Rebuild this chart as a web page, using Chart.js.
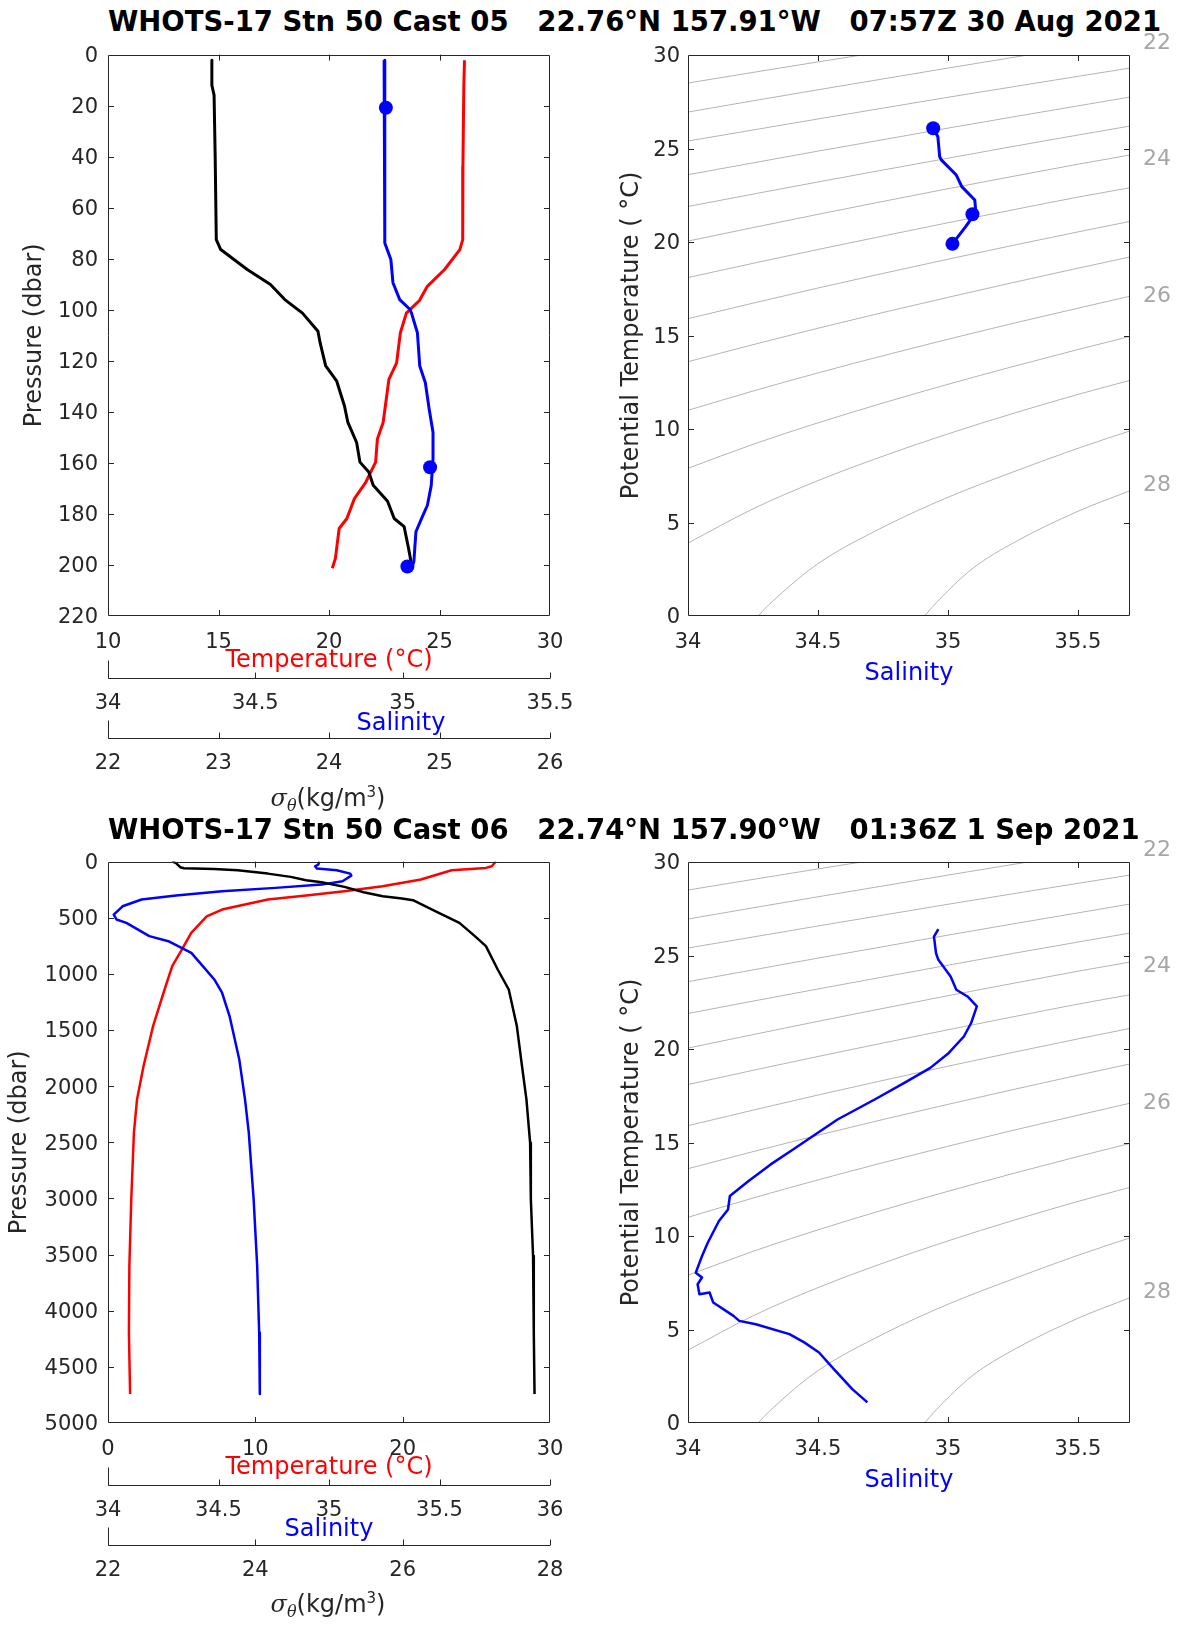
<!DOCTYPE html>
<html lang="en">
<head>
<meta charset="utf-8">
<title>WHOTS-17 Stn 50 casts 05 and 06</title>
<script src="https://cdn.jsdelivr.net/npm/chart.js@4.4.1/dist/chart.umd.min.js"></script>
<style>
  body { margin:0; width:1182px; height:1626px; position:relative; background:#fff; overflow:hidden; font-family:"DejaVu Sans", sans-serif; }
  canvas { position:absolute; }
  .ttl { position:absolute; left:108px; font-weight:bold; font-size:27.5px; line-height:30px; white-space:pre; color:#000; }
  .lbl { position:absolute; font-size:24px; line-height:28px; white-space:nowrap; transform:translate(-50%,-50%); color:#262626; }
  .lbl i { font-family:"DejaVu Serif", serif; }
  .lbl sub { font-size:16px; }
  .lbl sup { font-size:15px; }
</style>
</head>
<body>

<div class="ttl" style="top:6px">WHOTS-17 Stn 50 Cast 05   22.76°N 157.91°W   07:57Z 30 Aug 2021</div>
<canvas id="prof05" width="590" height="781" style="left:0;top:32px"></canvas>
<canvas id="ts05" width="591" height="669" style="left:591px;top:20px"></canvas>
<div class="lbl" style="left:401px;top:722px;color:#0000ff">Salinity</div>
<div class="lbl" style="left:328px;top:799px"><i>σ<sub>θ</sub></i>(kg/m<sup>3</sup>)</div>

<div class="ttl" style="top:814px">WHOTS-17 Stn 50 Cast 06   22.74°N 157.90°W   01:36Z 1 Sep 2021</div>
<canvas id="prof06" width="590" height="781" style="left:0;top:839px"></canvas>
<canvas id="ts06" width="591" height="669" style="left:591px;top:827px"></canvas>
<div class="lbl" style="left:328px;top:1605px"><i>σ<sub>θ</sub></i>(kg/m<sup>3</sup>)</div>

<script>
// ---- cast 05 profiles (pressure dbar)
const p05T = [2.2, 12.6, 43.9, 72.5, 76.4, 84.2, 90.8, 96.3, 101.3, 109, 120.8, 127.3, 144.2, 150.6, 159.7, 167.5, 174, 181.8, 185.7, 197.4, 201.3];
const t05  = [26.13, 26.10, 26.06, 26.05, 25.92, 25.23, 24.45, 24.10, 23.50, 23.23, 23.06, 22.71, 22.45, 22.19, 22.11, 21.67, 21.15, 20.81, 20.46, 20.29, 20.15];
const p05S = [2.2, 13.3, 21.7, 73.8, 80.3, 89.4, 96, 99.9, 101.3, 109, 122, 128.6, 139, 148, 158.4, 168.8, 176.6, 181.8, 187, 198.7, 200.6];
const s05  = [34.937, 34.938, 34.940, 34.940, 34.960, 34.967, 34.990, 35.025, 35.030, 35.050, 35.058, 35.077, 35.090, 35.103, 35.103, 35.097, 35.084, 35.064, 35.045, 35.038, 35.032];
const p05D = [2.2, 12, 15.9, 40, 72.5, 76.4, 80.3, 84.2, 90.1, 96, 101.3, 108.4, 113, 122, 128, 137.7, 144, 152, 159.7, 163.6, 168.8, 175, 181.8, 185, 193.5, 200.6];
const d05  = [22.94, 22.94, 22.96, 22.97, 22.98, 23.02, 23.14, 23.26, 23.47, 23.60, 23.76, 23.90, 23.92, 23.97, 24.07, 24.14, 24.17, 24.25, 24.28, 24.36, 24.40, 24.53, 24.59, 24.68, 24.72, 24.75];
const p05Mark = [20.8, 161.7, 200.6];
const s05Mark = [34.943, 35.093, 35.016];

// ---- cast 05 theta-S
const ts05S = [34.943, 34.961, 34.968, 34.975, 35.032, 35.053, 35.103, 35.107, 35.068, 35.017];
const ts05T = [26.08, 25.63, 24.56, 24.38, 23.58, 22.96, 22.25, 21.60, 20.82, 19.90];
const ts05MarkS = [34.943, 35.094, 35.017];
const ts05MarkT = [26.08, 21.48, 19.90];

// ---- cast 06 profiles
const p06T = [0, 41.5, 56, 77, 160, 220, 264, 302, 338, 427, 487, 635, 783, 931, 1139, 1465, 1822, 2118, 2414, 3007, 3601, 4194, 4742];
const t06  = [26.31, 26.05, 25.65, 23.32, 21.24, 18.64, 16.04, 13.45, 10.85, 7.74, 6.70, 5.65, 5.01, 4.36, 3.84, 3.06, 2.41, 1.97, 1.76, 1.58, 1.45, 1.42, 1.50];
const p06S = [0, 27, 41.5, 62, 77, 107, 125, 175, 205, 234, 264, 302, 338, 398, 472, 516, 546, 664, 709, 813, 931, 1050, 1168, 1376, 1762, 2118, 2414, 3007, 3601, 4194, 4742];
const s06  = [34.957, 34.951, 34.937, 34.946, 35.035, 35.096, 35.101, 35.061, 34.966, 34.758, 34.516, 34.308, 34.152, 34.066, 34.026, 34.039, 34.083, 34.187, 34.273, 34.377, 34.429, 34.481, 34.516, 34.550, 34.594, 34.620, 34.637, 34.659, 34.675, 34.684, 34.687];
const p06D = [0, 12, 50, 59, 65, 77, 107, 136, 166, 184, 225, 273, 308, 329, 344, 427, 546, 664, 753, 961, 1139, 1465, 1822, 2118, 2503, 3007, 3512, 4194, 4742];
const d06  = [22.87, 22.92, 22.98, 23.03, 23.44, 23.76, 24.17, 24.48, 24.69, 24.90, 25.21, 25.47, 25.73, 25.99, 26.14, 26.40, 26.77, 26.98, 27.13, 27.29, 27.44, 27.55, 27.62, 27.68, 27.73, 27.74, 27.77, 27.78, 27.79];

// ---- cast 06 theta-S
const ts06S = [34.963, 34.946, 34.954, 34.963, 35.010, 35.032, 35.075, 35.111, 35.089, 35.061, 35.003, 34.932, 34.832, 34.718, 34.575, 34.461, 34.404, 34.318, 34.233, 34.161, 34.154, 34.119, 34.076, 34.054, 34.030, 34.054, 34.037, 34.044, 34.083, 34.097, 34.175, 34.197, 34.261, 34.390, 34.447, 34.504, 34.561, 34.632, 34.690];
const ts06T = [26.41, 26.01, 25.12, 24.77, 23.88, 23.17, 22.81, 22.28, 21.39, 20.67, 19.79, 18.99, 18.19, 17.30, 16.23, 15.16, 14.63, 13.83, 12.94, 12.14, 11.42, 10.80, 9.64, 8.93, 8.04, 7.78, 7.42, 6.89, 6.98, 6.44, 5.73, 5.46, 5.28, 4.75, 4.31, 3.77, 2.88, 1.81, 1.10];

// ---- sigma-theta contours
const sigLevels = [21.5, 22, 22.5, 23, 23.5, 24, 24.5, 25, 25.5, 26, 26.5, 27, 27.5, 28];
const gridS = [34, 34.25, 34.5, 34.75, 35, 35.25, 35.5, 35.7];
const sigS = [gridS, gridS, gridS, gridS, gridS, gridS, gridS, gridS, gridS, gridS, gridS, gridS,
  [34.2, 34.27, 34.35, 34.5, 34.75, 35, 35.25, 35.5, 35.7],
  [34.85, 34.91, 35, 35.1, 35.25, 35.5, 35.7]];
const sigT = [
  [28.5, 29.07, 29.63, 30.18, 30.72, 31.26, 31.79, 32.2],
  [26.95, 27.55, 28.14, 28.72, 29.3, 29.87, 30.43, 30.88],
  [25.4, 25.99, 26.58, 27.16, 27.74, 28.3, 28.86, 29.3],
  [23.6, 24.23, 24.86, 25.47, 26.09, 26.69, 27.28, 27.75],
  [21.9, 22.56, 23.21, 23.85, 24.48, 25.11, 25.72, 26.2],
  [20.05, 20.77, 21.48, 22.17, 22.85, 23.51, 24.16, 24.65],
  [18.1, 18.86, 19.6, 20.32, 21.03, 21.72, 22.4, 22.9],
  [15.9, 16.73, 17.54, 18.32, 19.08, 19.82, 20.54, 21.1],
  [13.6, 14.51, 15.39, 16.23, 17.04, 17.83, 18.6, 19.2],
  [11.0, 12.03, 13.0, 13.92, 14.8, 15.65, 16.46, 17.1],
  [7.9, 9.18, 10.33, 11.39, 12.39, 13.34, 14.25, 14.95],
  [3.9, 5.73, 7.24, 8.55, 9.74, 10.83, 11.85, 12.6],
  [-1.3, 0, 1.1, 2.8, 4.75, 6.35, 7.7, 8.97, 9.9],
  [-1.1, 0, 1.35, 2.6, 3.9, 5.6, 6.7]];
const sigLabels = ['22', '24', '26', '28'];
const sigLabelT = [30.75, 24.55, 17.25, 7.15];

// ---- ticks
const pTicks05 = [0, 20, 40, 60, 80, 100, 120, 140, 160, 180, 200, 220];
const tTicks05 = [10, 15, 20, 25, 30];
const sTicks05 = [34, 34.5, 35, 35.5];
const dTicks05 = [22, 23, 24, 25, 26];
const pTicks06 = [0, 500, 1000, 1500, 2000, 2500, 3000, 3500, 4000, 4500, 5000];
const tTicks06 = [0, 10, 20, 30];
const sTicks06 = [34, 34.5, 35, 35.5, 36];
const dTicks06 = [22, 24, 26, 28];
const thTicks = [0, 5, 10, 15, 20, 25, 30];
const salTicksTS = [34, 34.5, 35, 35.5];
const salMaxTS = 35.7;

const AX = '#262626';
Chart.defaults.font.family = '"DejaVu Sans", sans-serif';
Chart.defaults.color = AX;

// box, inward ticks, the extra bottom axes and the grey sigma labels
const deco = {
  id: 'deco',
  afterDraw(chart, args, o) {
    const ctx = chart.ctx, a = chart.chartArea;
    const xs = chart.scales[o.x], ys = chart.scales[o.y];
    const L = 6;
    ctx.save();
    ctx.strokeStyle = AX;
    ctx.lineWidth = 1;
    ctx.beginPath();
    ctx.rect(Math.round(a.left) + 0.5, Math.round(a.top) + 0.5, Math.round(a.width) - 1, Math.round(a.height) - 1);
    xs.ticks.forEach(t => {
      const px = Math.round(xs.getPixelForValue(t.value)) + 0.5;
      if (px < a.left + 2 || px > a.right - 2) return;
      ctx.moveTo(px, a.bottom); ctx.lineTo(px, a.bottom - L);
      ctx.moveTo(px, a.top); ctx.lineTo(px, a.top + L);
    });
    ys.ticks.forEach(t => {
      const py = Math.round(ys.getPixelForValue(t.value)) + 0.5;
      if (py < a.top + 2 || py > a.bottom - 2) return;
      ctx.moveTo(a.left, py); ctx.lineTo(a.left + L, py);
      ctx.moveTo(a.right, py); ctx.lineTo(a.right - L, py);
    });
    (o.extra || []).forEach(id => {
      const s = chart.scales[id];
      const y0 = Math.round(s.top) + 0.5, x0 = Math.round(s.left) + 0.5;
      ctx.moveTo(x0, y0); ctx.lineTo(s.right, y0);
      ctx.moveTo(x0, y0); ctx.lineTo(x0, y0 - 18);
      s.ticks.forEach(t => {
        const px = Math.round(s.getPixelForValue(t.value)) + 0.5;
        ctx.moveTo(px, y0); ctx.lineTo(px, y0 - L);
      });
    });
    ctx.stroke();
    if (o.labels) {
      ctx.fillStyle = '#a6a6a6';
      ctx.font = '22px "DejaVu Sans"';
      ctx.textBaseline = 'middle';
      ctx.textAlign = 'left';
      sigLabels.forEach((txt, i) => ctx.fillText(txt, a.right + 13, ys.getPixelForValue(sigLabelT[i]) + 2.5));
    }
    ctx.restore();
  }
};
Chart.register(deco);

const pts = (xs, ys) => xs.map((v, i) => ({x: v, y: ys[i]}));

function axis(ticks, min, max, size, key, pad, more, shift) {
  return Object.assign({
    type: 'linear', min, max,
    grid: {display: false, drawTicks: false},
    border: {display: false},
    afterBuildTicks: s => { s.ticks = ticks.map(v => ({value: v})); },
    afterFit: s => { s[key] = size; },
    ticks: {padding: pad, labelOffset: shift || 0, font: {size: 21}, color: AX, autoSkip: false,
            maxRotation: 0, minRotation: 0, callback: v => String(v)}
  }, more);
}

function lineSet(data, xId, color, width) {
  return {data, xAxisID: xId, yAxisID: 'y', showLine: true, borderColor: color, borderWidth: width,
          pointRadius: 0, fill: false, borderJoinStyle: 'round'};
}

function profileChart(id, o) {
  return new Chart(document.getElementById(id), {
    type: 'scatter',
    data: {datasets: [
      {data: o.mark, xAxisID: 'xS', yAxisID: 'y', showLine: false, pointRadius: 7,
       pointBackgroundColor: '#0000ff', pointBorderWidth: 0},
      lineSet(o.dens, 'xD', '#000000', o.w),
      lineSet(o.sal, 'xS', '#0000ff', o.w),
      lineSet(o.temp, 'xT', '#ff0000', o.w)
    ]},
    options: {
      responsive: false, animation: false, events: [],
      layout: {padding: {left: 0, top: 0, right: 40, bottom: 0}},
      plugins: {legend: {display: false}, tooltip: {enabled: false},
                deco: {x: 'xT', y: 'y', extra: ['xS', 'xD']}},
      scales: {
        y: axis(o.pT, o.pT[0], o.pT[o.pT.length - 1], 108, 'width', 10, {
          axis: 'y', position: 'left', reverse: true,
          title: {display: true, text: 'Pressure (dbar)', color: AX, font: {size: 24}, padding: {top: o.yPad, bottom: 0}}
        }, 2),
        xT: axis(o.tT, o.tT[0], o.tT[o.tT.length - 1], 62, 'height', 14, {
          axis: 'x', position: 'bottom', weight: 0,
          title: {display: true, text: 'Temperature (°C)', color: '#ff0000', font: {size: 24}, padding: {top: 0, bottom: 2.6}}
        }),
        xS: axis(o.sT, o.sT[0], o.sT[o.sT.length - 1], 60, 'height', 13, {
          axis: 'x', position: 'bottom', weight: 1,
          title: {display: o.salTitle, text: 'Salinity', color: '#0000ff', font: {size: 24}, padding: {top: 0, bottom: 0.6}}
        }),
        xD: axis(o.dT, o.dT[0], o.dT[o.dT.length - 1], 75, 'height', 13, {
          axis: 'x', position: 'bottom', weight: 2
        })
      }
    }
  });
}

function tsChart(id, o) {
  const contours = sigLevels.map((lv, i) => ({
    data: pts(sigS[i], sigT[i]), showLine: true, borderColor: '#b4b4b4', borderWidth: 1,
    pointRadius: 0, fill: false, cubicInterpolationMode: 'monotone'
  }));
  return new Chart(document.getElementById(id), {
    type: 'scatter',
    data: {datasets: [
      {data: o.mark, showLine: false, pointRadius: 7, pointBackgroundColor: '#0000ff', pointBorderWidth: 0},
      {data: o.line, showLine: true, borderColor: '#0000ff', borderWidth: o.w, pointRadius: 0, fill: false, borderJoinStyle: 'round'},
      ...contours
    ]},
    options: {
      responsive: false, animation: false, events: [],
      layout: {padding: {left: 0, top: 35, right: 52, bottom: 0}},
      plugins: {legend: {display: false}, tooltip: {enabled: false},
                deco: {x: 'x', y: 'y', labels: true}},
      scales: {
        x: axis(salTicksTS, salTicksTS[0], salMaxTS, 73, 'height', 14, {
          position: 'bottom',
          title: {display: true, text: 'Salinity', color: '#0000ff', font: {size: 24}, padding: {top: 0, bottom: 0.6}}
        }),
        y: axis(thTicks, thTicks[0], thTicks[thTicks.length - 1], 97, 'width', 8, {
          position: 'left',
          title: {display: true, text: 'Potential Temperature ( °C)', color: AX, font: {size: 24}, padding: {top: 26, bottom: 0}}
        }, 2)
      }
    }
  });
}

profileChart('prof05', {
  temp: pts(t05, p05T), sal: pts(s05, p05S), dens: pts(d05, p05D), mark: pts(s05Mark, p05Mark),
  pT: pTicks05, tT: tTicks05, sT: sTicks05, dT: dTicks05, w: 3, yPad: 20, salTitle: false
});
profileChart('prof06', {
  temp: pts(t06, p06T), sal: pts(s06, p06S), dens: pts(d06, p06D), mark: [],
  pT: pTicks06, tT: tTicks06, sT: sTicks06, dT: dTicks06, w: 2.5, yPad: 5, salTitle: true
});
tsChart('ts05', {line: pts(ts05S, ts05T), mark: pts(ts05MarkS, ts05MarkT), w: 3});
tsChart('ts06', {line: pts(ts06S, ts06T), mark: [], w: 2.5});
</script>
</body>
</html>
